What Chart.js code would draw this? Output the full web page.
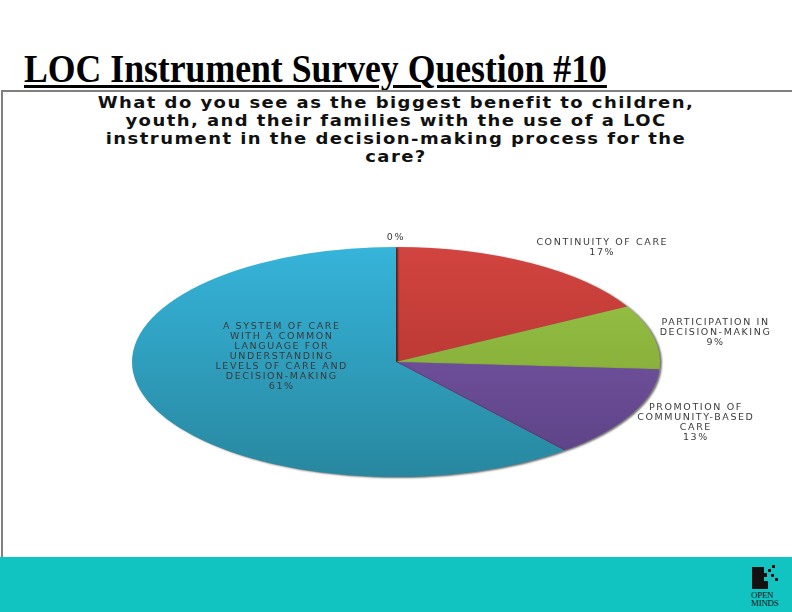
<!DOCTYPE html>
<html>
<head>
<meta charset="utf-8">
<script src="https://cdn.jsdelivr.net/npm/chart.js@4/dist/chart.umd.min.js"></script>
<style>
  body { margin: 0; width: 792px; height: 612px; position: relative; overflow: hidden; background: #fff; }
  #title {
    position: absolute; left: 24px; top: 46px;
    font-family: "Liberation Serif", "Times New Roman", serif; font-weight: bold; font-size: 39px;
    text-decoration: underline; text-decoration-thickness: 3px; text-underline-offset: 3px;
    transform: scaleX(0.915); transform-origin: left top; white-space: nowrap; color: #000;
  }
  #frame {
    position: absolute; left: 1px; top: 90px; width: 800px; height: 467px;
    border-top: 2px solid #808080; border-left: 2px solid #808080; box-sizing: border-box;
  }
  #question {
    position: absolute; left: 0; width: 792px; top: 94px; text-align: center;
    font-family: "DejaVu Sans", sans-serif; font-weight: bold; font-size: 15px;
    line-height: 18px; letter-spacing: 1.2px; color: #111;
    transform: scaleX(1.2); transform-origin: 396px 0;
  }
  #band { position: absolute; left: 0; top: 557px; width: 792px; height: 55px; background: #12c4c1; }
  #logo { position: absolute; left: 751px; top: 565px; width: 30px; height: 44px; }
  #logo .blk { position: absolute; background: #111; }
  #logo .txt { position: absolute; left: 0; font-family: "Liberation Serif", serif; font-size: 9px; line-height: 8px; color: #111; letter-spacing: -0.3px; }
  canvas { position: absolute; left: 0; top: 0; }
</style>
</head>
<body>
<div id="title">LOC Instrument Survey Question #10</div>
<div id="frame"></div>
<div id="question">What do you see as the biggest benefit to children,<br>youth, and their families with the use of a LOC<br>instrument in the decision-making process for the<br>care?</div>
<div id="band"></div>
<div id="logo">
  <div class="blk" style="left:1px;top:2px;width:12px;height:22px"></div>
  <div class="blk" style="left:13px;top:8px;width:3px;height:4px"></div>
  <div class="blk" style="left:17px;top:4px;width:3px;height:3px"></div>
  <div class="blk" style="left:21px;top:0px;width:3px;height:3px"></div>
  <div class="blk" style="left:20px;top:9px;width:3px;height:3px"></div>
  <div class="blk" style="left:24px;top:13px;width:3px;height:3px"></div>
  <div class="blk" style="left:13px;top:16px;width:4px;height:8px"></div>
  <div class="txt" style="top:26px">OPEN</div>
  <div class="txt" style="top:34px">MINDS</div>
</div>
<canvas id="myChart" width="792" height="612"></canvas>
<script>
// categories, wrapped the way the slide shows them
const categories = [
  [],
  ['CONTINUITY OF CARE'],
  ['PARTICIPATION IN', 'DECISION-MAKING'],
  ['PROMOTION OF', 'COMMUNITY-BASED', 'CARE'],
  ['A SYSTEM OF CARE', 'WITH A COMMON', 'LANGUAGE FOR', 'UNDERSTANDING', 'LEVELS OF CARE AND', 'DECISION-MAKING']
];
const percents = [0, 17, 9, 13, 61];
const colorsTop = ['#3ab3d8', '#d2443f', '#9cc64a', '#7c5cab', '#36b4da'];
const colorsBottom = ['#2a8ca6', '#a9302b', '#789f2e', '#5c4185', '#28879f'];

// pie is drawn squashed into an ellipse, like the slide
const stretchX = 264 / 115;

function sliceFill(c) {
  const area = c.chart.chartArea;
  if (!area) return colorsTop[c.dataIndex];
  const g = c.chart.ctx.createLinearGradient(0, area.top, 0, area.bottom);
  g.addColorStop(0, colorsTop[c.dataIndex]);
  g.addColorStop(1, colorsBottom[c.dataIndex]);
  return g;
}

const ellipsePlugin = {
  id: 'ellipse',
  beforeDatasetsDraw(chart) {
    const arc = chart.getDatasetMeta(0).data[0];
    const ctx = chart.ctx;
    ctx.save();
    ctx.translate(arc.x, arc.y);
    ctx.scale(stretchX, 1);
    ctx.translate(-arc.x, -arc.y);
    ctx.shadowColor = 'rgba(0,0,0,0.55)';
    ctx.shadowOffsetX = 2;
    ctx.shadowOffsetY = 1;
    ctx.shadowBlur = 2;
  },
  afterDatasetsDraw(chart) {
    chart.ctx.restore();
  },
  afterDraw(chart) {
    const ctx = chart.ctx;
    const lh = 10;
    ctx.save();
    ctx.font = '9.5px "DejaVu Sans", sans-serif';
    ctx.letterSpacing = '1.6px';
    ctx.fillStyle = '#3a3a3a';
    ctx.textAlign = 'center';
    ctx.textBaseline = 'middle';
    chart.getDatasetMeta(0).data.forEach((el, i) => {
      const lines = categories[i].concat([percents[i] + '%']);
      const mid = (el.startAngle + el.endAngle) / 2;
      const c = Math.cos(mid), s = Math.sin(mid);
      const rx = el.outerRadius * stretchX, ry = el.outerRadius;
      const h = lines.length * lh;
      let x, cy;
      if (percents[i] > 40) {
        // big slice: label sits inside
        x = el.x + rx * 0.46 * c;
        cy = el.y + ry * 0.46 * s - 0.2 * ry;
      } else if (Math.abs(c) < 0.2) {
        x = el.x + rx * c;
        cy = el.y + ry * s - 9 - h / 2 + lh / 2;
      } else {
        const w = Math.max(...lines.map(t => ctx.measureText(t).width));
        x = el.x + rx * c + Math.sign(c) * (w / 2 + 6);
        cy = el.y + ry * s + s * 18;
      }
      const y0 = (Math.abs(c) < 0.2 && percents[i] <= 40) ? cy : cy - h / 2 + lh / 2;
      lines.forEach((t, k) => ctx.fillText(t, x, y0 + k * lh));
    });
    ctx.restore();
  }
};

new Chart(document.getElementById('myChart'), {
  type: 'pie',
  data: {
    labels: categories.map(l => l.join(' ')),
    datasets: [{
      data: percents,
      backgroundColor: sliceFill,
      borderWidth: 0
    }]
  },
  options: {
    responsive: false,
    animation: false,
    layout: { padding: { top: 247, bottom: 135, left: 132, right: 132 } },
    plugins: { legend: { display: false }, tooltip: { enabled: false } }
  },
  plugins: [ellipsePlugin]
});
</script>
</body>
</html>
